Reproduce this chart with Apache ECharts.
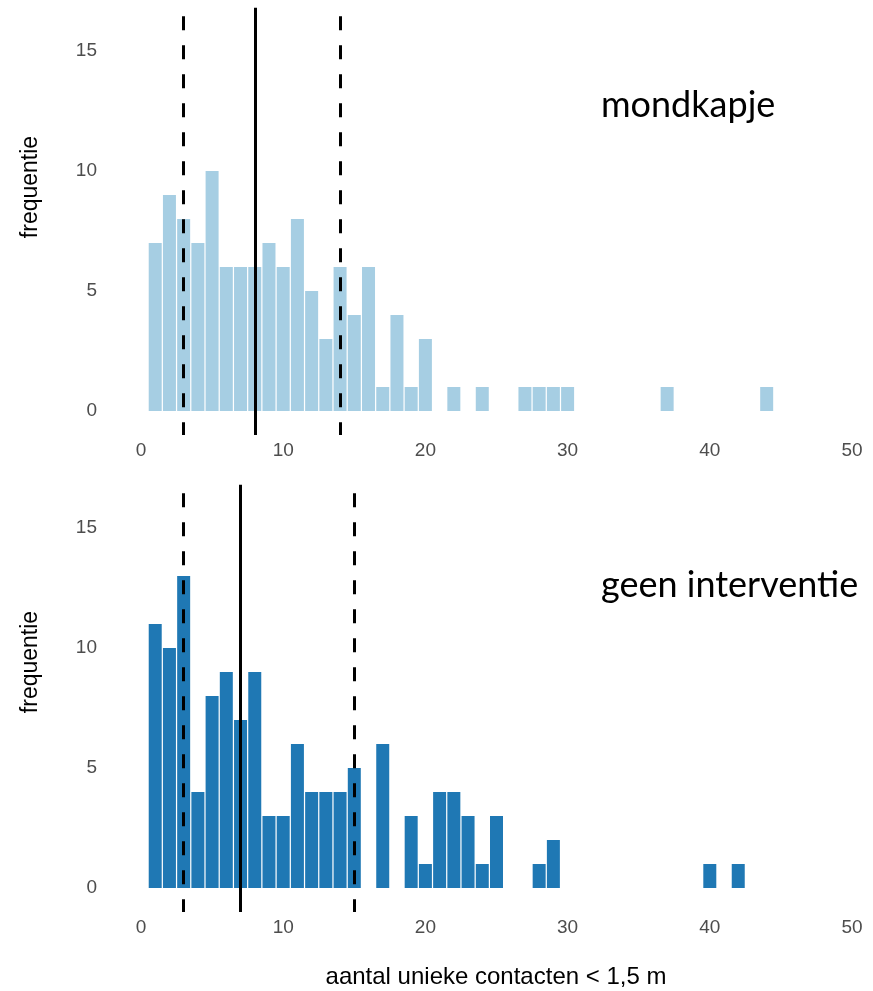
<!DOCTYPE html>
<html>
<head>
<meta charset="utf-8">
<script src="https://cdn.jsdelivr.net/npm/echarts@6/dist/echarts.min.js"></script>
<style>
html,body{margin:0;padding:0;background:#fff;}
#chart{width:873px;height:991px;}
</style>
</head>
<body>
<div id="chart"></div>
<script>
// Data: frequency of number of unique contacts (< 1,5 m), contacts start at 1
const mondkapjeCounts = [7,9,8,7,10,6,6,6,7,6,8,5,3,6,4,6,1,4,1,3,0,1,0,1,0,0,1,1,1,1,0,0,0,0,0,0,1,0,0,0,0,0,0,1];
const geenCounts      = [11,10,13,4,8,9,7,9,3,3,6,4,4,4,5,0,6,0,3,1,4,4,3,1,3,0,0,1,2,0,0,0,0,0,0,0,0,0,0,1,0,1];
// Quantile lines: lower (dashed), median (solid), upper (dashed)
const mondkapjeLines = [3, 8, 14];
const geenLines      = [3, 7, 15];
const xTicks = [0, 10, 20, 30, 40, 50];
const yTicks = [0, 5, 10, 15];
const panelLabels = ['mondkapje', 'geen interventie'];
const xTitle = 'aantal unieke contacten < 1,5 m';
const yTitle = 'frequentie';

const toBars = counts => counts.map((c, i) => [i + 1, c]).filter(d => d[1] > 0);

const labelFont = 'Liberation Sans, Arial, sans-serif';
const lineTop = { dashed: 16.45, solid: 16.8 };

function quantileLines(q) {
  return q.map((v, i) => {
    const solid = i === 1;
    return [
      { coord: [v, solid ? lineTop.solid : lineTop.dashed],
        lineStyle: { type: solid ? 'solid' : [14, 15], width: 3, color: '#000' } },
      { coord: [v, -1] }
    ];
  });
}

function xAxisCfg(idx) {
  return {
    type: 'value', gridIndex: idx, min: xTicks[0], max: xTicks[xTicks.length - 1], interval: 10,
    axisLine: { show: false }, axisTick: { show: false }, splitLine: { show: false },
    axisLabel: { color: '#4d4d4d', fontSize: 19, fontFamily: labelFont, margin: 6 }
  };
}
function yAxisCfg(idx) {
  return {
    type: 'value', gridIndex: idx, min: -1, max: 17, interval: 1,
    axisLine: { show: false }, axisTick: { show: false }, splitLine: { show: false },
    axisLabel: {
      color: '#4d4d4d', fontSize: 19, fontFamily: labelFont, margin: 44,
      formatter: v => (yTicks.indexOf(v) >= 0 ? String(v) : '')
    }
  };
}
function barSeries(idx, counts, color, lines) {
  return {
    type: 'bar', xAxisIndex: idx, yAxisIndex: idx,
    data: toBars(counts), barWidth: 13,
    itemStyle: { color: color },
    silent: true, animation: false,
    markLine: {
      silent: true, symbol: ['none', 'none'], label: { show: false },
      animation: false, data: quantileLines(lines)
    }
  };
}

const annFont = '36px Lato, "Open Sans", sans-serif';
const chart = echarts.init(document.getElementById('chart'), null, { renderer: 'canvas' });
chart.setOption({
  backgroundColor: '#fff',
  animation: false,
  grid: [
    { left: 141, right: 21, top: 3, height: 432 },
    { left: 141, right: 21, top: 480, height: 432 }
  ],
  xAxis: [xAxisCfg(0), xAxisCfg(1)],
  yAxis: [yAxisCfg(0), yAxisCfg(1)],
  series: [
    barSeries(0, mondkapjeCounts, '#a6cee3', mondkapjeLines),
    barSeries(1, geenCounts, '#1f78b4', geenLines)
  ],
  graphic: [
    { type: 'text', x: 601, y: 105, style: { text: panelLabels[0], font: annFont, fill: '#000', align: 'left', verticalAlign: 'middle' } },
    { type: 'text', x: 601, y: 585, style: { text: panelLabels[1], font: annFont, fill: '#000', align: 'left', verticalAlign: 'middle' } },
    { type: 'text', x: 31, y: 187, rotation: Math.PI / 2,
      style: { text: yTitle, font: '23px ' + labelFont, fill: '#000', align: 'center', verticalAlign: 'middle' } },
    { type: 'text', x: 31, y: 662, rotation: Math.PI / 2,
      style: { text: yTitle, font: '23px ' + labelFont, fill: '#000', align: 'center', verticalAlign: 'middle' } },
    { type: 'text', x: 496, y: 977,
      style: { text: xTitle, font: '24px ' + labelFont, fill: '#000', align: 'center', verticalAlign: 'middle' } }
  ]
});
</script>
</body>
</html>
